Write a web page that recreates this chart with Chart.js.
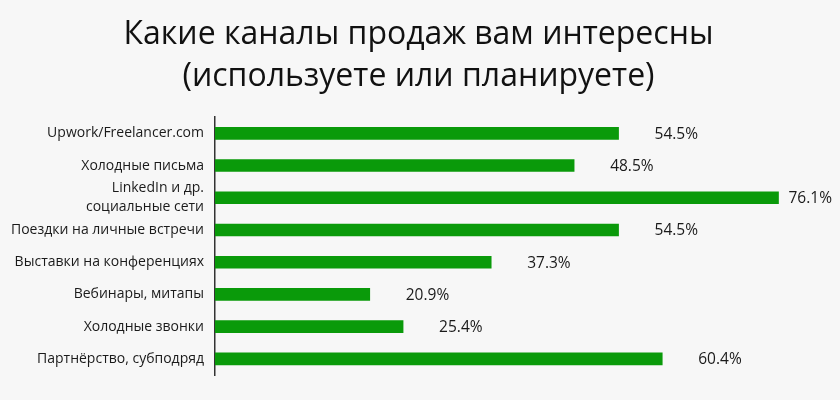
<!DOCTYPE html>
<html>
<head>
<meta charset="utf-8">
<script src="https://cdn.jsdelivr.net/npm/chart.js@4"></script>
<style>
  html, body { margin: 0; padding: 0; background: #f7f7f7; }
  #wrap { width: 840px; height: 400px; position: relative; }
</style>
</head>
<body>
<div id="wrap"><canvas id="c" width="840" height="400"></canvas></div>
<script>
const titleLines = ["Какие каналы продаж вам интересны", "(используете или планируете)"];
const categories = [
  "Upwork/Freelancer.com",
  "Холодные письма",
  ["LinkedIn и др.", "социальные сети"],
  "Поездки на личные встречи",
  "Выставки на конференциях",
  "Вебинары, митапы",
  "Холодные звонки",
  "Партнёрство, субподряд"
];
const values = [54.5, 48.5, 76.1, 54.5, 37.3, 20.9, 25.4, 60.4];

const FONT = "'Open Sans', 'Noto Sans', sans-serif";

const valueLabels = {
  id: 'valueLabels',
  afterDatasetsDraw(chart) {
    const ctx = chart.ctx;
    const meta = chart.getDatasetMeta(0);
    ctx.save();
    ctx.font = "15.5px " + FONT;
    ctx.fillStyle = "#1a1a1a";
    ctx.textBaseline = "middle";
    meta.data.forEach((bar, i) => {
      const txt = values[i].toFixed(1) + "%";
      const w = ctx.measureText(txt).width;
      let x = bar.x + 36;
      if (x + w > chart.width - 3) x = bar.x + 10;
      ctx.fillText(txt, x, bar.y + 1);
    });
    ctx.restore();
  }
};

new Chart(document.getElementById('c'), {
  type: 'bar',
  data: {
    labels: categories,
    datasets: [{
      data: values,
      backgroundColor: '#0a9a0a',
      borderWidth: 0,
      barThickness: 12
    }]
  },
  options: {
    indexAxis: 'y',
    responsive: false,
    animation: false,
    layout: { padding: { left: 0, right: 3, top: 0, bottom: 25 } },
    plugins: {
      legend: { display: false },
      tooltip: { enabled: false },
      title: {
        display: true,
        text: titleLines,
        color: '#111',
        font: { family: FONT, size: 32, weight: 'normal', lineHeight: 1.3 },
        padding: { top: 14, bottom: 20 }
      }
    },
    scales: {
      x: {
        min: 0,
        max: 84,
        display: false,
        grid: { display: false }
      },
      y: {
        grid: { display: false, drawTicks: false },
        border: { display: true, color: '#333', width: 1.5 },
        afterFit(scale) { scale.width = 215; },
        ticks: {
          autoSkip: false,
          color: '#1a1a1a',
          padding: 11,
          font: { family: FONT, size: 14, lineHeight: 1.35 }
        }
      }
    }
  },
  plugins: [valueLabels]
});
</script>
</body>
</html>
